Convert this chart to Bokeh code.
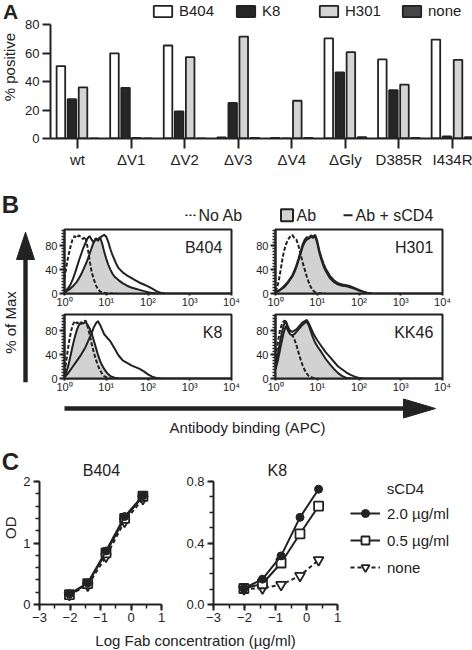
import math
from bokeh.plotting import figure
from bokeh.layouts import column, row
from bokeh.models import (Range1d, FixedTicker, SingleIntervalTicker, Label, Legend,
                          LegendItem, NumeralTickFormatter)
from bokeh.core.properties import value
from bokeh.embed import file_html
from bokeh.resources import INLINE

FONT = "Liberation Sans"
INK = "#222222"

# ---------------- Panel A data ----------------
categories = ["wt", "ΔV1", "ΔV2", "ΔV3", "ΔV4", "ΔGly", "D385R", "I434R"]
series_a = ["B404", "K8", "H301", "none"]
pct_b404 = [51, 60, 65.5, 0.7, 0.5, 70.5, 55.7, 69.7]
pct_k8 = [27.7, 35.7, 19, 25, 0, 46.6, 34, 1.5]
pct_h301 = [36, 0.5, 57.3, 71.8, 26.6, 60.8, 38, 55.4]
pct_none = [0, 0, 0, 0.5, 0.5, 1.0, 0.5, 1.0]
a_ticks = [0, 20, 40, 60, 80]

# ---------------- Panel B data (log10 fluorescence, % of max) ----------------
decade_labels = ["10\u2070", "10\u00b9", "10\u00b2", "10\u00b3", "10\u2074"]

b404_noab_x = [0.00, 0.03, 0.07, 0.11, 0.15, 0.19, 0.24, 0.29, 0.34, 0.39, 0.44, 0.49, 0.53, 0.57, 0.61, 0.65, 0.70, 0.75, 0.80, 0.86, 0.92, 1.00, 1.10, 1.25]
b404_noab_y = [25, 38, 55, 68, 80, 90, 96, 93, 97, 95, 91, 95, 86, 70, 52, 36, 24, 14, 7, 3, 1.5, 0.5, 0, 0]
b404_ab_x = [0.00, 0.05, 0.10, 0.15, 0.20, 0.25, 0.30, 0.35, 0.40, 0.45, 0.50, 0.55, 0.60, 0.65, 0.70, 0.75, 0.80, 0.85, 0.90, 0.95, 1.00, 1.05, 1.10, 1.15, 1.20, 1.30, 1.40, 1.50, 1.60, 1.70, 1.80, 1.90, 2.00, 2.10, 2.20]
b404_ab_y = [2, 4, 6, 9, 12, 16, 20, 26, 32, 40, 48, 56, 66, 76, 86, 92, 90, 94, 84, 70, 58, 48, 40, 33, 28, 22, 17, 13, 10, 8, 6, 4, 2, 1, 0]
b404_sc_x = [0.00, 0.05, 0.10, 0.15, 0.20, 0.25, 0.30, 0.35, 0.40, 0.45, 0.50, 0.55, 0.60, 0.65, 0.70, 0.75, 0.80, 0.85, 0.90, 0.95, 1.00, 1.05, 1.10, 1.15, 1.20, 1.25, 1.30, 1.40, 1.50, 1.60, 1.70, 1.80, 1.90, 2.00, 2.10, 2.20, 2.30, 2.40]
b404_sc_y = [3, 6, 10, 16, 24, 34, 45, 56, 66, 76, 84, 92, 96, 90, 85, 92, 88, 93, 96, 98, 95, 86, 74, 64, 56, 48, 42, 35, 30, 26, 22, 18, 15, 12, 8, 4, 1.5, 0]

h301_noab_x = [0.00, 0.04, 0.08, 0.12, 0.16, 0.20, 0.25, 0.30, 0.35, 0.40, 0.45, 0.50, 0.55, 0.60, 0.65, 0.70, 0.75, 0.80, 0.85, 0.90, 0.95, 1.05, 1.20]
h301_noab_y = [3, 10, 22, 38, 55, 70, 82, 90, 95, 98, 93, 90, 80, 66, 52, 40, 28, 18, 10, 5, 2, 0.5, 0]
h301_ab_x = [0.00, 0.10, 0.20, 0.30, 0.40, 0.45, 0.50, 0.55, 0.60, 0.65, 0.70, 0.75, 0.80, 0.85, 0.90, 0.95, 1.00, 1.05, 1.10, 1.15, 1.20, 1.30, 1.40, 1.50, 1.60, 1.70, 1.80, 1.90, 2.00, 2.10, 2.20, 2.30]
h301_ab_y = [2, 5, 10, 18, 28, 35, 44, 55, 66, 78, 86, 90, 92, 95, 93, 96, 84, 68, 56, 46, 38, 26, 19, 15, 13, 12, 10, 8, 5, 3, 1, 0]
h301_sc_x = [0.00, 0.10, 0.20, 0.30, 0.40, 0.45, 0.50, 0.55, 0.60, 0.65, 0.70, 0.75, 0.80, 0.85, 0.90, 0.95, 1.00, 1.05, 1.10, 1.15, 1.20, 1.30, 1.40, 1.50, 1.60, 1.70, 1.80, 1.90, 2.00, 2.10, 2.20, 2.30]
h301_sc_y = [3, 6, 12, 20, 30, 38, 47, 58, 70, 82, 90, 94, 93, 97, 95, 98, 88, 72, 60, 50, 42, 30, 22, 17, 15, 14, 12, 9, 6, 3, 1, 0]

k8_noab_x = [0.00, 0.04, 0.08, 0.12, 0.16, 0.20, 0.25, 0.30, 0.35, 0.40, 0.45, 0.50, 0.55, 0.60, 0.65, 0.70, 0.75, 0.80, 0.85, 0.90, 0.95, 1.00, 1.10, 1.20]
k8_noab_y = [10, 28, 48, 66, 80, 90, 96, 92, 95, 91, 94, 97, 88, 74, 58, 44, 32, 22, 14, 8, 4, 2, 0.5, 0]
k8_ab_x = [0.00, 0.05, 0.10, 0.15, 0.20, 0.25, 0.30, 0.35, 0.40, 0.45, 0.50, 0.55, 0.60, 0.65, 0.70, 0.75, 0.80, 0.85, 0.90, 0.95, 1.00, 1.05, 1.10, 1.20, 1.30]
k8_ab_y = [4, 12, 24, 40, 56, 70, 82, 90, 94, 92, 95, 90, 84, 76, 64, 52, 40, 30, 22, 16, 11, 7, 4, 1.5, 0]
k8_sc_x = [0.00, 0.10, 0.20, 0.30, 0.40, 0.50, 0.55, 0.60, 0.65, 0.70, 0.75, 0.80, 0.85, 0.90, 0.95, 1.00, 1.05, 1.10, 1.15, 1.20, 1.25, 1.30, 1.40, 1.50, 1.60, 1.70, 1.80, 1.90, 2.00, 2.10, 2.20, 2.30]
k8_sc_y = [2, 10, 20, 30, 40, 52, 60, 68, 76, 85, 92, 96, 90, 82, 74, 70, 66, 62, 56, 50, 44, 38, 30, 26, 22, 19, 16, 12, 7, 3, 1, 0]

kk46_noab_x = [0.00, 0.03, 0.06, 0.10, 0.14, 0.18, 0.22, 0.26, 0.30, 0.34, 0.38, 0.42, 0.46, 0.50, 0.55, 0.60, 0.65, 0.70, 0.75, 0.80, 0.90, 1.00]
kk46_noab_y = [35, 48, 62, 78, 88, 94, 97, 92, 84, 78, 74, 70, 64, 56, 44, 32, 22, 14, 8, 4, 1, 0]
kk46_ab_x = [0.00, 0.05, 0.10, 0.15, 0.20, 0.25, 0.30, 0.35, 0.40, 0.45, 0.50, 0.55, 0.60, 0.65, 0.70, 0.75, 0.80, 0.85, 0.90, 0.95, 1.00, 1.10, 1.20, 1.30, 1.40, 1.50, 1.60, 1.70, 1.80]
kk46_ab_y = [15, 28, 45, 62, 78, 88, 80, 74, 72, 74, 78, 82, 86, 90, 93, 95, 88, 78, 68, 60, 54, 44, 33, 24, 16, 9, 4, 1, 0]
kk46_sc_x = [0.00, 0.05, 0.10, 0.15, 0.20, 0.25, 0.30, 0.35, 0.40, 0.45, 0.50, 0.55, 0.60, 0.65, 0.70, 0.75, 0.80, 0.85, 0.90, 0.95, 1.00, 1.10, 1.20, 1.30, 1.40, 1.50, 1.60, 1.70, 1.80, 1.90, 2.00, 2.10]
kk46_sc_y = [20, 38, 58, 76, 90, 96, 86, 80, 78, 80, 82, 86, 90, 94, 96, 98, 92, 84, 76, 70, 64, 54, 44, 36, 28, 20, 15, 10, 6, 3, 1, 0]

# ---------------- Panel C data ----------------
log_fab = [-2.02, -1.42, -0.82, -0.21, 0.39]
sc_labels = ["2.0 \u00b5g/ml", "0.5 \u00b5g/ml", "none"]
b404_od_20 = [0.17, 0.35, 0.87, 1.43, 1.77]
b404_od_05 = [0.16, 0.34, 0.84, 1.40, 1.76]
b404_od_none = [0.16, 0.31, 0.78, 1.35, 1.72]
k8_od_20 = [0.104, 0.165, 0.316, 0.567, 0.75]
k8_od_05 = [0.104, 0.135, 0.27, 0.46, 0.64]
k8_od_none = [0.10, 0.106, 0.128, 0.187, 0.29]


def style_axis(ax, size="13px"):
    ax.axis_line_color = INK
    ax.axis_line_width = 2
    ax.major_tick_line_color = INK
    ax.major_tick_line_width = 2
    ax.minor_tick_line_color = INK
    ax.minor_tick_line_width = 1.5
    ax.major_tick_in = 0
    ax.minor_tick_in = 0
    ax.major_label_text_font = FONT
    ax.major_label_text_font_size = size
    ax.major_label_text_color = INK
    ax.axis_label_text_font = FONT
    ax.axis_label_text_font_style = "normal"
    ax.axis_label_text_font_size = "15px"
    ax.axis_label_text_color = INK


def canvas(w, h):
    p = figure(width=w, height=h, x_range=Range1d(0, w), y_range=Range1d(h, 0),
               x_axis_location=None, y_axis_location=None, toolbar_location=None,
               output_backend="svg", min_border=0)
    p.grid.visible = False
    p.outline_line_color = None
    return p


def ctext(p, x, y, t, size="15px", align="left", bold=False):
    p.text(x=[x], y=[y], text=[t], text_font=value(FONT), text_font_size=size,
           text_color=INK, text_align=align, text_baseline="middle",
           text_font_style="bold" if bold else "normal")


def vtext(p, x, y, t, size="15px"):
    p.add_layout(Label(x=x, y=y, text=t, angle=math.pi / 2, text_font=FONT,
                       text_font_size=size, text_color=INK, text_align="center",
                       text_baseline="middle"))


# ================= Panel A =================
aleft = canvas(20, 170)
ctext(aleft, 10, 14, "A", size="21px", align="center", bold=True)
vtext(aleft, 9, 82, "% positive")

pa = figure(width=452, height=170, x_range=Range1d(-0.504, 7.373), y_range=Range1d(0, 97.2),
            min_border_left=30, min_border_right=0, min_border_top=0, min_border_bottom=31,
            toolbar_location=None, output_backend="svg")
pa.grid.visible = False
pa.outline_line_color = None
offsets = [-0.31, -0.103, 0.103, 0.31]
fills = ["white", "#262626", "#d4d4d4", "#474747"]
items = []
for name, vals, off, fill in zip(series_a, [pct_b404, pct_k8, pct_h301, pct_none], offsets, fills):
    r = pa.vbar(x=[i + off for i in range(len(categories))], top=vals, bottom=0, width=0.16,
                fill_color=fill, line_color=INK, line_width=1.8)
    items.append(LegendItem(label=name, renderers=[r]))
style_axis(pa.xaxis[0], "15px")
style_axis(pa.yaxis[0], "13px")
pa.xaxis.ticker = FixedTicker(ticks=list(range(len(categories))))
pa.xaxis.major_label_overrides = {i: c for i, c in enumerate(categories)}
pa.xaxis.major_tick_out = 10
pa.xaxis.major_label_standoff = 2
pa.xaxis.minor_tick_line_color = None
pa.yaxis.ticker = FixedTicker(ticks=a_ticks)
pa.yaxis.bounds = (0, 80)
pa.yaxis.major_tick_out = 8
pa.yaxis.major_label_standoff = 3
leg_a = Legend(items=items, orientation="horizontal", location=(101, 119),
               glyph_width=23, glyph_height=14, label_height=14, label_width=50,
               label_standoff=5, spacing=5, padding=0, margin=0,
               border_line_color=None, background_fill_alpha=0,
               label_text_font=FONT, label_text_font_size="15px", label_text_color=INK)
pa.add_layout(leg_a)

panel_a = row(aleft, pa)

# ================= Panel B =================
btop = canvas(472, 55)
ctext(btop, 10, 33.5, "B", size="24px", align="center", bold=True)
ly = 44.7
btop.segment(x0=[185], y0=[ly], x1=[195], y1=[ly], line_color=INK, line_width=1.5, line_dash="2 2")
ctext(btop, 198, ly, "No Ab", size="16px")
btop.rect(x=[286.5], y=[ly], width=12, height=12, fill_color="#d2d2d2", line_color=INK, line_width=2)
ctext(btop, 296, ly, "Ab", size="16px")
btop.segment(x0=[343], y0=[ly], x1=[352], y1=[ly], line_color=INK, line_width=2)
ctext(btop, 355, ly, "Ab + sCD4", size="16px")


def hist_fig(name, w, left, right, nx, ny, ax_, ay, sx, sy):
    p = figure(width=w, height=85, x_range=Range1d(0, 4), y_range=Range1d(0, 107),
               min_border_left=left, min_border_right=right, min_border_top=4,
               min_border_bottom=17, toolbar_location=None, output_backend="svg")
    p.grid.visible = False
    p.outline_line_color = INK
    p.outline_line_width = 2
    p.varea(x=ax_, y1=0, y2=ay, fill_color="#d2d2d2")
    p.line(ax_, ay, line_color=INK, line_width=2)
    p.line(nx, ny, line_color=INK, line_width=2, line_dash="4 2")
    p.line(sx, sy, line_color=INK, line_width=2)
    style_axis(p.xaxis[0], "11px")
    style_axis(p.yaxis[0], "11px")
    p.xaxis.ticker = FixedTicker(ticks=[0, 1, 2, 3, 4])
    p.xaxis.major_label_overrides = {i: t for i, t in enumerate(decade_labels)}
    p.xaxis.major_tick_out = 2
    p.xaxis.major_label_standoff = 0
    p.xaxis.minor_tick_line_color = None
    p.yaxis.ticker = SingleIntervalTicker(interval=40, num_minor_ticks=8)
    p.yaxis.major_tick_out = 5
    p.yaxis.minor_tick_out = 3
    p.yaxis.major_label_standoff = 2
    p.add_layout(Label(x=3.78, y=77, text=name, text_font=FONT, text_font_size="16px",
                       text_color=INK, text_align="right", text_baseline="middle"))
    return p


tl = hist_fig("B404", 209, 28, 14, b404_noab_x, b404_noab_y, b404_ab_x, b404_ab_y, b404_sc_x, b404_sc_y)
tr = hist_fig("H301", 227, 30, 30, h301_noab_x, h301_noab_y, h301_ab_x, h301_ab_y, h301_sc_x, h301_sc_y)
bl = hist_fig("K8", 209, 28, 14, k8_noab_x, k8_noab_y, k8_ab_x, k8_ab_y, k8_sc_x, k8_sc_y)
br = hist_fig("KK46", 227, 30, 30, kk46_noab_x, kk46_noab_y, kk46_ab_x, kk46_ab_y, kk46_sc_x, kk46_sc_y)

varrow = canvas(36, 170)
varrow.quad(left=[22.8], right=[27.2], top=[34], bottom=[156.7], fill_color=INK, line_color=None)
varrow.patch(x=[25, 16, 34], y=[6.7, 34, 34], fill_color=INK, line_color=INK)
vtext(varrow, 10, 97, "% of Max")

bbot = canvas(472, 45)
bbot.quad(left=[64], right=[405], top=[10.8], bottom=[15.2], fill_color=INK, line_color=None)
bbot.patch(x=[435, 403, 403], y=[13, 3.5, 22.5], fill_color=INK, line_color=INK)
ctext(bbot, 247, 32, "Antibody binding (APC)", size="15px", align="center")

panel_b = column(btop, row(varrow, column(row(tl, tr), row(bl, br))), bbot)

# ================= Panel C =================
cleft = canvas(20, 188)
ctext(cleft, 10, 24, "C", size="24px", align="center", bold=True)
vtext(cleft, 10, 100, "OD")


def od_fig(w, left, xmax, ymax, ytop, yint, yminor, fmt):
    p = figure(width=w, height=188, x_range=Range1d(-3, xmax), y_range=Range1d(0, ytop),
               min_border_left=left, min_border_right=w - left - (122 if xmax == 1 else w - left),
               min_border_top=0, min_border_bottom=24, toolbar_location=None,
               output_backend="svg")
    p.grid.visible = False
    p.outline_line_color = None
    style_axis(p.xaxis[0], "13px")
    style_axis(p.yaxis[0], "13px")
    p.xaxis.ticker = SingleIntervalTicker(interval=1, num_minor_ticks=2)
    p.xaxis.bounds = (-3, 1)
    p.xaxis.major_tick_out = 6
    p.xaxis.minor_tick_out = 4
    p.xaxis.major_label_standoff = 2
    p.yaxis.ticker = SingleIntervalTicker(interval=yint, num_minor_ticks=yminor)
    p.yaxis.bounds = (0, ymax)
    p.yaxis.major_tick_out = 6
    p.yaxis.minor_tick_out = 4
    p.yaxis.major_label_standoff = 3
    if fmt:
        p.yaxis.formatter = NumeralTickFormatter(format=fmt)
    return p


def od_series(p, s20, s05, snone):
    rn_l = p.line(log_fab, snone, line_color=INK, line_width=2, line_dash="4 3")
    rn_m = p.scatter(log_fab, snone, marker="inverted_triangle", size=10, fill_color="white",
                     line_color=INK, line_width=1.8)
    r5_l = p.line(log_fab, s05, line_color=INK, line_width=2)
    r5_m = p.scatter(log_fab, s05, marker="square", size=9, fill_color="white",
                     line_color=INK, line_width=1.8)
    r2_l = p.line(log_fab, s20, line_color=INK, line_width=2)
    r2_m = p.scatter(log_fab, s20, marker="circle", size=8, fill_color=INK,
                     line_color=INK, line_width=1)
    return [[r2_l, r2_m], [r5_l, r5_m], [rn_l, rn_m]]


# frames extend above the y axis (bounded) so the titles sit inside them
cl = od_fig(150, 19, 1, 2, 2 + 41 / 61.5, 1, 5, None)
od_series(cl, b404_od_20, b404_od_05, b404_od_none)
cl.add_layout(Label(x=-0.97, y=2.18, text="B404", text_font=FONT, text_font_size="16px",
                    text_color=INK, text_align="center", text_baseline="middle"))

cr = od_fig(302, 43, -3 + 259 / 31, 0.8, 0.8 + 41 / 153.75, 0.4, 4, "0.0")
rs = od_series(cr, k8_od_20, k8_od_05, k8_od_none)
cr.add_layout(Label(x=-0.94, y=0.872, text="K8", text_font=FONT, text_font_size="16px",
                    text_color=INK, text_align="center", text_baseline="middle"))
cr.add_layout(Label(x=3.19, y=0.754, text="sCD4", text_font=FONT, text_font_size="15px",
                    text_color=INK, text_align="center", text_baseline="middle"))
leg_c = Legend(items=[LegendItem(label=l, renderers=r) for l, r in zip(sc_labels, rs)],
               location=(137, 27), glyph_width=30, glyph_height=20, label_height=20,
               spacing=7, padding=0, margin=0, label_standoff=7,
               border_line_color=None, background_fill_alpha=0,
               label_text_font=FONT, label_text_font_size="15px", label_text_color=INK)
cr.add_layout(leg_c)

cbot = canvas(472, 22)
ctext(cbot, 195, 12, "Log Fab concentration (\u00b5g/ml)", size="15px", align="center")

panel_c = column(row(cleft, cl, cr), cbot)

layout = column(panel_a, panel_b, panel_c)
open("out.html", "w").write(file_html(layout, INLINE))
